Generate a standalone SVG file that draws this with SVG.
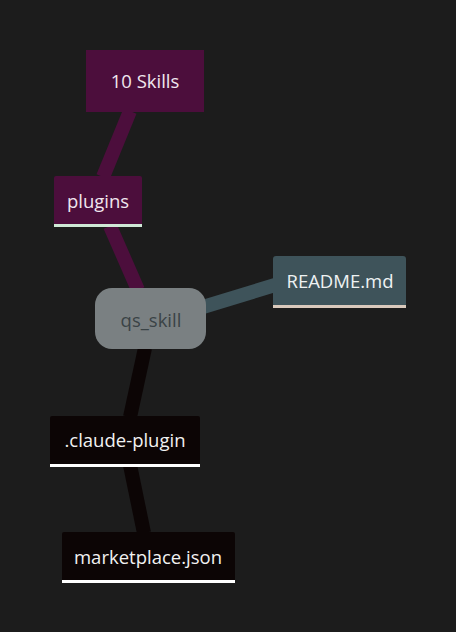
<svg xmlns="http://www.w3.org/2000/svg" width="456" height="632" viewBox="0 0 456 632">
<style>
text{font-family:"Open Sans","Noto Sans","DejaVu Sans",sans-serif;font-size:18.5px;text-anchor:middle;dominant-baseline:central}
.plum{fill:#4c0e3c}
.dark{fill:#0c0505}
.lt{fill:#f0e6ee}
.c{fill:none;stroke-width:14;stroke-linecap:butt}
</style>
<rect width="456" height="632" fill="#1c1c1c"/>
<g id="connectors">
<path class="c" stroke="#4c0e3c" d="M130,111 L103,177"/>
<path class="c" stroke="#4c0e3c" d="M110,226 L138,290"/>
<path class="c" stroke="#3e535a" d="M203,307 L275,285" stroke-width="16"/>
<path class="c" stroke="#0c0505" d="M145,348 L130,417"/>
<path class="c" stroke="#0c0505" d="M130,465 L144,533"/>
</g>
<g id="n-skills">
<rect class="plum" x="86" y="50" width="118" height="62"/>
<text class="lt" x="145" y="80">10 Skills</text>
</g>
<g id="n-plugins">
<rect class="plum" x="54" y="176" width="88" height="50" rx="2"/>
<rect x="54" y="224" width="88" height="3" fill="#cfe8d6"/>
<text class="lt" x="98" y="200">plugins</text>
</g>
<g id="n-qs">
<rect x="95" y="288" width="111" height="61" rx="17" fill="#7a8082"/>
<text x="151" y="319" fill="#3a4346">qs_skill</text>
</g>
<g id="n-readme">
<rect x="273" y="256" width="133" height="51" rx="3" fill="#3e535a"/>
<rect x="273" y="305" width="133" height="3" fill="#d9c9bc"/>
<text x="340" y="280" fill="#eef2f3">README.md</text>
</g>
<g id="n-claude">
<rect class="dark" x="50" y="416" width="150" height="50" rx="2"/>
<rect x="50" y="464" width="150" height="3" fill="#ffffff"/>
<text x="125" y="439" fill="#f2f2f2">.claude-plugin</text>
</g>
<g id="n-market">
<rect class="dark" x="62" y="532" width="173" height="50" rx="2"/>
<rect x="62" y="580" width="173" height="3" fill="#ffffff"/>
<text x="148" y="556" fill="#f2f2f2">marketplace.json</text>
</g>
</svg>
